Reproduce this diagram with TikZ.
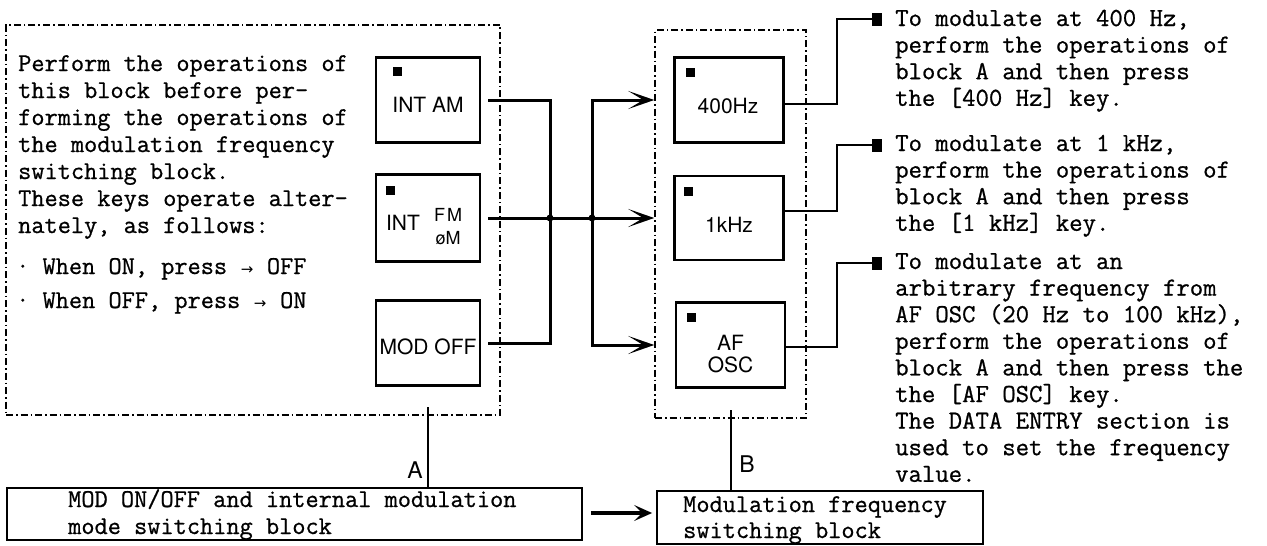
\documentclass[tikz,border=0pt]{standalone}
\usepackage{fontspec}
\usepackage{graphicx}
\setmonofont{Latin Modern Mono}[FakeBold=0.8]
\newfontfamily\keyf{TeX Gyre Heros}
\newfontfamily\symf{DejaVu Sans}
\usetikzlibrary{arrows.meta,calc}
\newcommand{\parr}{\makebox[0.525em]{\symf\fontsize{15}{15}\selectfont →}}
\tikzset{
  dashframe/.style={draw, line width=1.5pt, dash pattern=on 7pt off 3pt on 1.5pt off 3pt, inner sep=0pt},
  keybox/.style={draw, line width=2.2pt, minimum width=104pt, minimum height=85pt, inner sep=0pt},
  freqkey/.style={draw, line width=2.2pt, minimum width=109pt, minimum height=85pt, inner sep=0pt},
  lamp/.style={fill=black, minimum width=9pt, minimum height=9pt, inner sep=0pt},
  leadlamp/.style={fill=black, minimum width=10pt, minimum height=13pt, inner sep=0pt},
  keylabel/.style={font=\keyf\fontsize{21}{22}\selectfont, inner sep=0pt},
  smalllabel/.style={font=\keyf\fontsize{18}{18}\selectfont, inner sep=0pt},
  blocklabel/.style={font=\keyf\fontsize{23}{23}\selectfont, inner sep=0pt},
  mono/.style={font=\ttfamily\fontsize{25.6}{27}\selectfont, inner sep=0pt, anchor=base west},
  monor/.style={font=\ttfamily\fontsize{26}{26.6}\selectfont, inner sep=0pt, anchor=base west},
  conn/.style={line width=3pt, >={Stealth[length=26pt,width=18pt,inset=15pt]}},
  conntwo/.style={line width=3.2pt, >={Stealth[length=18pt,width=16pt,inset=8pt]}},
  lead/.style={line width=2pt},
  tieline/.style={line width=1.8pt},
  bottombox/.style={draw, line width=1.8pt, inner sep=0pt}
}
\begin{document}
\begin{tikzpicture}[x=1pt,y=-1pt]
\useasboundingbox (0,0) rectangle (1267,546);

% frames
\node[dashframe, minimum width=494pt, minimum height=390pt] (frameA) at (253,220) {};
\node[dashframe, minimum width=151pt, minimum height=388pt] (frameB) at (730.5,224) {};

% block A text
\node[mono] (txtA) at (18,71) {\parbox[t]{350pt}{\raggedright
Perform the operations of\\
this block before per-\\
forming the operations of\\
the modulation frequency\\
switching block.\\
These keys operate alter-\\
nately, as follows:}};
\node[mono] (bulon) at (16,274) {· When ON, press \parr{} OFF};
\node[mono] (buloff) at (16,308) {· When OFF, press \parr{} ON};

% keys of block A
\node[keybox] (intam) at (428,100) {};
\node[keybox, minimum height=87pt] (intfm) at (428,218) {};
\node[keybox] (modoff) at (428,343) {};
\node[lamp] (lampam) at (397,71) {};
\node[lamp] (lampfm) at (390,190) {};
\node[keylabel] (lblam) at (428,105) {INT AM};
\node[keylabel] (lblint) at (403,223) {INT};
\node[smalllabel] (lblfm) at (448,215) {F\kern2pt M};
\node[smalllabel] (lblpm) at (448,238) {øM};
\node[keylabel] (lblmod) at (428,347) {MOD OFF};

% keys of block B
\node[freqkey] (f400) at (729,100) {};
\node[freqkey, minimum height=84pt] (f1k) at (729,218) {};
\node[freqkey] (afosc) at (730.5,345) {};
\node[lamp] (lamp400) at (690,72) {};
\node[lamp] (lamp1k) at (688,191) {};
\node[lamp] (lampaf) at (691,317) {};
\node[keylabel] (lbl400) at (728,106) {400Hz};
\node[keylabel] (lbl1k) at (729,225) {1kHz};
\node[keylabel] (lblaf) at (730.5,343) {AF};
\node[keylabel] (lblosc) at (730.5,365) {OSC};

% connectors between blocks
\coordinate (b1t) at (550,100);
\coordinate (b1b) at (550,343);
\coordinate (b2t) at (592,100);
\coordinate (b2b) at (592,345);
\draw[conn, shorten <=7pt, shorten >=7pt] (intam.east) -- (b1t) -- (b1b) -- (modoff.east);
\draw[conn, shorten <=7pt, ->] (intfm.east) -- (f1k.west -| frameB.west);
\draw[conn, <->] (f400.west -| frameB.west) -- (b2t) -- (b2b) -- (afosc.west -| frameB.west);
\fill (b1t |- intfm.east) circle (3.5pt);
\fill (b2t |- intfm.east) circle (3.5pt);

% leaders to the notes
\coordinate (lx) at (837,0);
\node[leadlamp] (sq1) at (877,19) {};
\node[leadlamp] (sq2) at (877,145) {};
\node[leadlamp] (sq3) at (877,263) {};
\draw[lead] ([yshift=-4pt]f400.east) -| (sq1.west -| lx) -- (sq1.west);
\draw[lead] ([yshift=7pt]f1k.east) -| (sq2.west -| lx) -- (sq2.west);
\draw[lead] ([yshift=-2pt]afosc.east) -| (sq3.west -| lx) -- (sq3.west);

% notes
\node[monor] (note1) at (895,26) {\parbox[t]{370pt}{\raggedright
To modulate at 400 Hz,\\
perform the operations of\\
block A and then press\\
the [400 Hz] key.}};
\node[monor] (note2) at (895,151) {\parbox[t]{370pt}{\raggedright
To modulate at 1 kHz,\\
perform the operations of\\
block A and then press\\
the [1 kHz] key.}};
\node[monor] (note3) at (895,269) {\parbox[t]{370pt}{\raggedright
To modulate at an\\
arbitrary frequency from\\
AF OSC (20 Hz to 100 kHz),\\
perform the operations of\\
block A and then press the\\
the [AF OSC] key.\\
The DATA ENTRY section is\\
used to set the frequency\\
value.}};

% bottom blocks
\node[bottombox, minimum width=575pt, minimum height=52pt] (modbox) at (294.5,514) {};
\node[bottombox, minimum width=326pt, minimum height=53pt] (freqbox) at (820,517.5) {};
\node[mono] (modtxt) at (68,507) {\parbox[t]{500pt}{\raggedright
MOD ON/OFF and internal modulation\\
mode switching block}};
\node[mono, font=\ttfamily\fontsize{25.6}{26}\selectfont] (freqtxt) at (683,512) {\parbox[t]{300pt}{\raggedright
Modulation frequency\\
switching block}};

\coordinate (Atop) at (428,407);
\coordinate (Btop) at (731,410);
\draw[tieline] (Atop) -- (Atop |- modbox.north);
\draw[tieline] (Btop) -- (Btop |- freqbox.north);
\node[blocklabel] (labA) at (415,470) {A};
\node[blocklabel] (labB) at (747,464) {B};

\coordinate (ay) at (0,513);
\draw[conntwo, shorten <=8pt, shorten >=4pt, ->] (modbox.east |- ay) -- (freqbox.west |- ay);
\end{tikzpicture}
\end{document}
